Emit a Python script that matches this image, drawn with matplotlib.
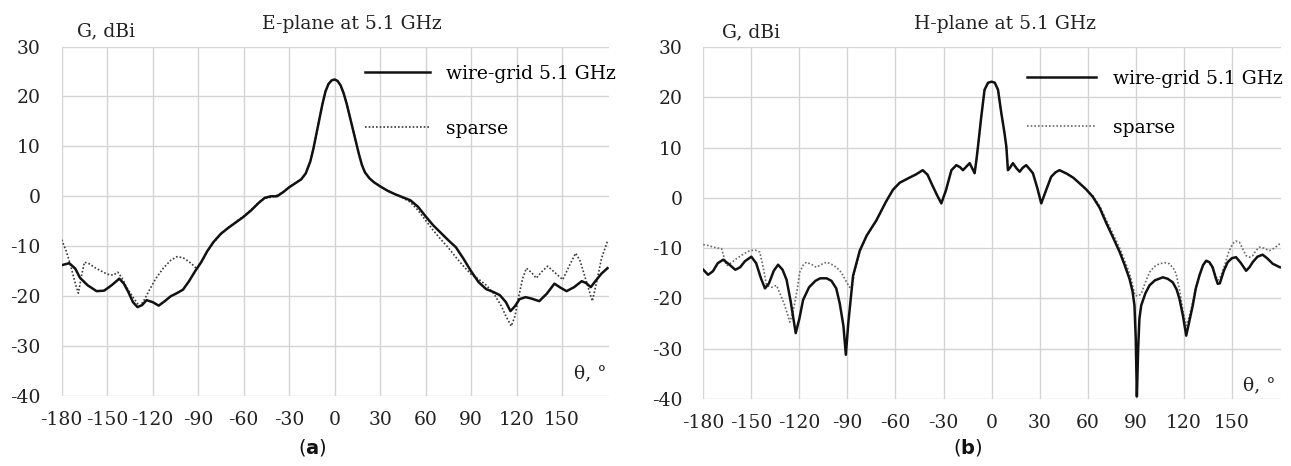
import matplotlib
matplotlib.use("Agg")
import matplotlib.pyplot as plt

plt.rcParams['font.family'] = ['DejaVu Serif']
plt.rcParams['axes.unicode_minus'] = False

# ---------------- data: E-plane ----------------
e_wire_theta = [-180, -175, -171, -168, -163, -157, -152, -147, -142, -139, -136, -133, -130, -127, -124,
                -120, -116, -112, -108, -104, -100, -96, -92, -88, -84, -80, -75, -70, -65, -60, -55, -50,
                -46, -42, -38, -34, -30, -26, -22, -19, -16, -14, -12, -10, -8, -6, -4, -2, 0, 2, 4, 6, 8,
                10, 12, 14, 16, 18, 20, 23, 26, 30, 35, 40, 45, 50, 55, 60, 65, 70, 75, 80, 85, 90, 95,
                100, 105, 109, 113, 116, 119, 122, 126, 130, 135, 140, 145, 149, 153, 158, 163, 166, 169,
                172, 176, 180]
e_wire_gain = [-13.8, -13.4, -14.5, -16.3, -17.8, -19.0, -18.9, -17.8, -16.5, -17.5, -19.2, -21.2, -22.2,
               -21.8, -20.8, -21.2, -21.9, -21.0, -20.0, -19.4, -18.7, -17.0, -15.0, -13.2, -11.0, -9.2,
               -7.5, -6.3, -5.2, -4.1, -2.8, -1.3, -0.3, 0.0, 0.0, 0.8, 1.8, 2.6, 3.4, 4.6, 7.0, 9.5, 12.5,
               15.5, 18.5, 21.0, 22.5, 23.2, 23.4, 23.1, 22.2, 20.6, 18.5, 16.0, 13.5, 11.0, 8.5, 6.3, 4.8,
               3.6, 2.8, 2.0, 1.1, 0.4, -0.2, -0.8, -2.1, -4.0, -5.8, -7.3, -8.8, -10.2, -12.5, -15.0,
               -17.2, -18.6, -19.2, -19.8, -21.2, -23.0, -22.0, -20.6, -20.2, -20.5, -21.0, -19.5, -17.5,
               -18.3, -19.0, -18.2, -17.0, -17.4, -18.2, -17.0, -15.5, -14.4]

e_sparse_theta = [-180, -177, -174, -171, -169, -167, -165, -162, -158, -155, -150, -146, -143, -140, -137,
                  -133, -130, -128.5, -126, -122, -118, -113, -108, -104, -100, -97, -94, -91, -88, -84,
                  -80, -75, -70, -65, -60, -55, -50, -46, -42, -38, -34, -30, -26, -22, -19, -16, -14, -12,
                  -10, -8, -6, -4, -2, 0, 2, 4, 6, 8, 10, 12, 14, 16, 18, 20, 23, 26, 30, 35, 40, 45, 50,
                  55, 60, 65, 70, 75, 80, 85, 90, 95, 100, 105, 110, 113, 116.5, 119, 121, 124, 126.5, 130,
                  133, 137, 140.5, 145, 150.5, 155, 159, 162, 166, 170, 173, 176, 180]
e_sparse_gain = [-8.7, -11.0, -14.0, -17.5, -19.4, -16.0, -13.2, -13.5, -14.3, -14.8, -15.6, -15.8, -15.2,
                 -16.5, -18.3, -20.2, -21.5, -22.0, -21.0, -18.7, -16.5, -14.4, -12.8, -12.1, -12.3, -12.9,
                 -13.6, -14.5, -13.3, -11.0, -9.3, -7.6, -6.2, -5.1, -4.0, -2.7, -1.2, -0.4, -0.2, 0.2, 0.9,
                 1.8, 2.6, 3.4, 4.6, 7.0, 9.5, 12.5, 15.5, 18.5, 21.0, 22.5, 23.2, 23.4, 23.1, 22.2, 20.6,
                 18.5, 16.0, 13.5, 11.0, 8.5, 6.3, 4.8, 3.6, 2.8, 2.0, 1.1, 0.4, -0.3, -1.2, -2.8, -4.8,
                 -6.8, -8.6, -10.3, -12.2, -14.0, -15.6, -16.6, -17.8, -19.5, -22.0, -24.0, -26.0, -24.0,
                 -20.7, -16.5, -14.4, -15.3, -16.4, -15.0, -14.0, -15.2, -16.7, -13.8, -11.4, -13.0, -17.0,
                 -21.0, -17.0, -12.5, -9.0]

# ---------------- data: H-plane ----------------
h_wire_theta = [-180, -177, -174, -171, -167.6, -164, -160, -157, -154, -150, -147, -144, -141.5, -139, -136,
                -133.3, -130.5, -128, -125.5, -122.3, -120, -117.7, -114, -110, -107, -103, -100, -97, -94.8,
                -92.5, -91, -89.5, -86.5, -82.3, -78, -72, -66, -61.6, -57.4, -52, -47, -43, -40, -37, -34,
                -31.4, -28.5, -25.1, -22, -19.7, -17.9, -15.5, -13.7, -11.5, -10.6, -9.5, -8.5, -6.5, -4.4,
                -2.2, 0, 2, 4, 6, 8, 9.2, 10.2, 11.5, 13.3, 15.5, 17.5, 19.5, 21.6, 23.5, 25.8, 28.5, 31, 34,
                37.2, 40, 42.4, 47, 51, 54.9, 59, 63.2, 67.5, 71.6, 76, 80, 83, 86.1, 88, 89.2, 90, 90.7,
                91.5, 92.3, 93.4, 96, 98.6, 102, 106.9, 110, 113.1, 115.5, 117.3, 119.5, 121.5, 123.5, 125.6,
                127.5, 129.8, 132, 134, 136, 138, 140, 141.2, 142.5, 145, 147.4, 150, 152.6, 155.5, 158.9,
                161, 163, 166, 169.2, 172, 175.5, 180]
h_wire_gain = [-14.3, -15.3, -14.6, -13.0, -12.3, -13.2, -14.3, -13.8, -12.6, -11.7, -13.0, -16.0, -18.0,
               -17.0, -14.5, -13.3, -14.3, -16.3, -20.5, -26.9, -24.0, -20.3, -17.8, -16.5, -16.0, -16.0,
               -16.5, -18.0, -21.0, -25.5, -31.2, -25.0, -15.5, -10.5, -7.5, -4.5, -0.8, 1.6, 3.0, 3.9, 4.7,
               5.5, 4.6, 2.5, 0.5, -1.1, 1.5, 5.5, 6.5, 6.1, 5.5, 6.3, 6.9, 5.5, 4.9, 7.5, 10.2, 16.0, 21.5,
               22.9, 23.1, 22.9, 21.5, 17.0, 13.0, 10.2, 5.5, 6.0, 6.9, 5.9, 5.2, 6.0, 6.5, 5.8, 4.9, 2.0,
               -1.1, 1.5, 4.2, 5.1, 5.5, 4.8, 4.0, 2.9, 1.7, 0.2, -2.0, -5.0, -8.0, -10.8, -13.3, -16.1,
               -18.6, -21.4, -28.0, -39.5, -30.0, -24.0, -21.4, -19.0, -17.4, -16.4, -15.8, -16.1, -16.8,
               -18.2, -20.1, -23.5, -27.4, -24.5, -21.4, -18.0, -15.4, -13.4, -12.5, -12.8, -13.8, -16.0,
               -17.1, -17.0, -14.5, -12.8, -12.0, -11.8, -12.9, -14.5, -13.8, -12.8, -11.7, -11.3, -12.0,
               -13.1, -13.8]

h_sparse_theta = [-180, -176.5, -173.9, -170.5, -168.6, -165.5, -162, -159.3, -155, -151, -147.5, -144.7,
                  -142.5, -140.5, -137.5, -134.3, -131.5, -129.1, -126, -124, -121.5, -119.8, -117.5, -115.6,
                  -112, -109.4, -106, -103.1, -100, -96.9, -94.5, -92.8, -90.5, -88.6, -87, -85.5, -84,
                  -82.3, -78, -72, -66, -61.6, -57.4, -52, -47, -43, -40, -37, -34, -31.4, -28.5, -25.1,
                  -22, -19.7, -17.9, -15.5, -13.7, -11.5, -10.6, -9.5, -8.5, -6.5, -4.4, -2.2, 0, 2, 4, 6,
                  8, 9.2, 10.2, 11.5, 13.3, 15.5, 17.5, 19.5, 21.6, 23.5, 25.8, 28.5, 31, 34, 37.2, 40, 42.4,
                  47, 51, 54.9, 59, 63.2, 67.5, 71.6, 76, 80, 83, 86.1, 88, 89.5, 91.5, 93.4, 96, 98.6, 101.5,
                  104.8, 108, 111, 113.5, 115.2, 117.5, 119.5, 121.5, 123, 124.6, 127, 129.8, 132, 134, 136,
                  138, 140, 141.2, 143, 145.4, 148, 150.5, 152.5, 154.7, 157, 158.9, 161, 163, 165, 167.2,
                  170, 173.4, 176.5, 180]
h_sparse_gain = [-9.3, -9.5, -9.8, -10.0, -10.1, -13.5, -12.8, -12.1, -11.2, -10.5, -10.4, -10.8, -14.0,
                 -17.4, -17.8, -17.4, -19.5, -21.4, -24.7, -22.7, -18.5, -14.8, -13.3, -12.8, -13.3, -13.8,
                 -13.2, -12.8, -13.2, -13.8, -14.6, -15.4, -16.8, -17.8, -17.4, -14.5, -12.8, -10.7, -7.6,
                 -4.6, -0.8, 1.6, 3.0, 3.9, 4.7, 5.5, 4.6, 2.5, 0.5, -1.1, 1.5, 5.5, 6.5, 6.1, 5.5, 6.3, 6.9,
                 5.5, 4.9, 7.5, 10.2, 16.0, 21.5, 22.9, 23.1, 22.9, 21.5, 17.0, 13.0, 10.2, 5.5, 6.0, 6.9,
                 5.9, 5.2, 6.0, 6.5, 5.8, 4.9, 2.0, -1.1, 1.5, 4.2, 5.1, 5.5, 4.8, 4.0, 2.9, 1.7, 0.4, -1.6,
                 -4.4, -7.3, -10.0, -12.4, -15.0, -17.3, -19.4, -19.5, -19.1, -16.8, -14.8, -13.7, -13.1,
                 -12.9, -13.1, -14.0, -15.1, -18.5, -22.5, -25.4, -24.0, -22.1, -18.5, -15.4, -13.3, -12.5,
                 -13.0, -14.1, -15.5, -16.4, -15.6, -13.5, -10.8, -9.1, -8.6, -8.8, -10.3, -11.5, -11.8,
                 -11.5, -10.5, -9.8, -10.0, -10.5, -10.0, -9.1]

x_ticks = [-180, -150, -120, -90, -60, -30, 0, 30, 60, 90, 120, 150]
y_ticks = [-40, -30, -20, -10, 0, 10, 20, 30]
titles = ["E-plane at 5.1 GHz", "H-plane at 5.1 GHz"]
legend_labels = ["wire-grid 5.1 GHz", "sparse"]
panel_tags = ["a", "b"]

W, H = 1291, 466
fig = plt.figure(figsize=(W / 100, H / 100), dpi=100)
fig.patch.set_facecolor("white")

ax_specs = [
    dict(rect=[61.7 / W, (H - 396) / H, 547.3 / W, 349.5 / H],
         data=(e_wire_theta, e_wire_gain, e_sparse_theta, e_sparse_gain),
         sparse_color="#3a3a3a", legend_anchor=(0.554, 0.947), handlelen=3.45, lspace=1.95,
         tlabel=(0.965, 0.066), title_pos=(0.531, 1.064), gpos=(0.028, 1.043), tag_x=312),
    dict(rect=[703.3 / W, (H - 399) / H, 578.2 / W, 352 / H],
         data=(h_wire_theta, h_wire_gain, h_sparse_theta, h_sparse_gain),
         sparse_color="#6a6a6a", legend_anchor=(0.559, 0.935), handlelen=3.7, lspace=1.65,
         tlabel=(0.961, 0.04), title_pos=(0.522, 1.065), gpos=(0.032, 1.043), tag_x=968),
]

fs = 13.5
for spec, title, tag in zip(ax_specs, titles, panel_tags):
    ax = fig.add_axes(spec["rect"])
    wt, wg, st, sg = spec["data"]
    ax.plot(wt, wg, color="#111111", lw=1.8, solid_joinstyle="round", label=legend_labels[0], zorder=3)
    ax.plot(st, sg, color=spec["sparse_color"], lw=1.2, ls=(0, (1, 1.2)), label=legend_labels[1], zorder=2)
    ax.set_xlim(-180, 181)
    ax.set_ylim(-40, 30)
    ax.set_xticks(x_ticks)
    ax.set_xticklabels([str(t) for t in x_ticks])
    ax.set_yticks(y_ticks)
    ax.set_yticklabels([str(t) for t in y_ticks])
    ax.tick_params(axis="both", length=0, labelsize=fs, colors="#222222")
    ax.tick_params(axis="y", pad=15)
    ax.tick_params(axis="x", pad=11)
    for s in ax.spines.values():
        s.set_visible(False)
    ax.grid(True, color="#d4d4d4", lw=1.0)
    ax.set_axisbelow(True)
    ax.text(spec["title_pos"][0], spec["title_pos"][1], title, transform=ax.transAxes,
            ha="center", va="center", fontsize=fs, color="#222222")
    ax.text(spec["gpos"][0], spec["gpos"][1], "G, dBi", transform=ax.transAxes,
            ha="left", va="center", fontsize=fs, color="#222222")
    ax.text(spec["tlabel"][0], spec["tlabel"][1], "θ, °", transform=ax.transAxes,
            ha="center", va="center", fontsize=fs, color="#222222")
    ax.legend(loc="upper left", bbox_to_anchor=spec["legend_anchor"], frameon=False,
              fontsize=fs, handlelength=spec["handlelen"], handletextpad=0.9,
              labelspacing=spec["lspace"], borderpad=0, borderaxespad=0)
    fig.text(spec["tag_x"] / W, 1 - 448 / H, "(" + r"$\mathbf{" + tag + "}$" + ")",
             ha="center", va="center", fontsize=14, family="DejaVu Sans", color="#111111")

fig.savefig("out.png", dpi=100, facecolor="white")
